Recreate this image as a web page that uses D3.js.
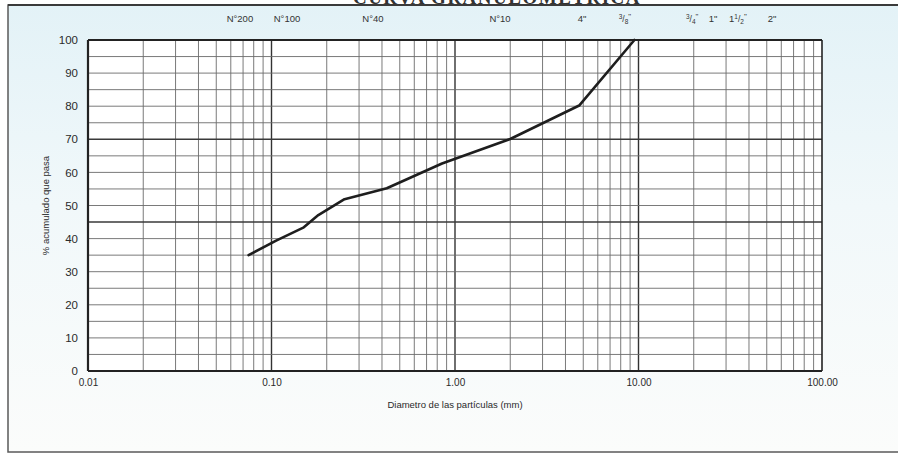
<!DOCTYPE html>
<html>
<head>
<meta charset="utf-8">
<script src="https://cdn.jsdelivr.net/npm/d3@7"></script>
<style>
  html, body { margin: 0; padding: 0; background: #ffffff; }
  svg { display: block; }
</style>
</head>
<body>
<svg id="chart" width="898" height="456"></svg>
<script>
// ---- data ----
const diameters = [0.075, 0.106, 0.15, 0.18, 0.25, 0.425, 0.85, 2.0, 4.75, 9.5];
const percentPassing = [35.0, 39.4, 43.4, 47.1, 51.9, 55.2, 62.7, 70.1, 80.2, 100];
const xTickValues = [0.01, 0.1, 1, 10, 100];
const yTickValues = [0, 10, 20, 30, 40, 50, 60, 70, 80, 90, 100];
const sieveLabels = ['N°200', 'N°100', 'N°40', 'N°10', '4"', '3/8"', '3/4"', '1"', '1 1/2"', '2"'];
const sieveLabelAt = [0.0673, 0.1215, 0.357, 1.76, 4.92, 8.44, 19.6, 25.5, 34.8, 53.4];
const titleText = 'CURVA GRANULOMETRICA';
const xTitle = 'Diametro de las partículas (mm)';
const yTitle = '% acumulado que pasa';

// ---- layout ----
const W = 898, H = 456;
const plot = { left: 88, right: 822, top: 40, bottom: 371 };
const svg = d3.select('#chart');

const defs = svg.append('defs');
const grad = defs.append('linearGradient').attr('id', 'bg').attr('x1', 0).attr('y1', 0).attr('x2', 0).attr('y2', 1);
grad.append('stop').attr('offset', '0%').attr('stop-color', '#e3f2f7');
grad.append('stop').attr('offset', '45%').attr('stop-color', '#f1f8fa');
grad.append('stop').attr('offset', '100%').attr('stop-color', '#fbfcfb');

// outer frame
svg.append('rect').attr('x', 8).attr('y', 5).attr('width', W - 6).attr('height', 447)
  .attr('fill', 'url(#bg)').attr('stroke', '#5a5a5a').attr('stroke-width', 1.5);

// title (cut off at the top, as in the scan)
svg.append('text').attr('x', 497).attr('y', 4)
  .attr('text-anchor', 'middle')
  .attr('font-family', 'Liberation Serif, serif').attr('font-weight', 'bold')
  .attr('font-size', 19).attr('fill', '#333').attr('letter-spacing', 1.5)
  .text(titleText);
svg.append('line').attr('x1', 8).attr('x2', W).attr('y1', 5).attr('y2', 5)
  .attr('stroke', '#3a3a3a').attr('stroke-width', 2);

// scales
const x = d3.scaleLog().domain([0.01, 100]).range([plot.left, plot.right]);
const y = d3.scaleLinear().domain([0, 100]).range([plot.bottom, plot.top]);

// plot background
svg.append('rect').attr('x', plot.left).attr('y', plot.top)
  .attr('width', plot.right - plot.left).attr('height', plot.bottom - plot.top)
  .attr('fill', '#ffffff');

// vertical grid (log)
const gridX = [];
for (let d = 0.01; d < 100; d *= 10) {
  for (let k = 1; k <= 9; k++) gridX.push(+(d * k).toPrecision(3));
}
const isMajor = v => Math.abs(Math.log10(v) - Math.round(Math.log10(v))) < 1e-9;
svg.append('g').selectAll('line').data(gridX.filter(v => v > 0.01)).join('line')
  .attr('x1', d => x(d)).attr('x2', d => x(d))
  .attr('y1', plot.top).attr('y2', plot.bottom)
  .attr('stroke', d => isMajor(d) ? '#333' : '#6b6b6b')
  .attr('stroke-width', d => isMajor(d) ? 1.4 : 0.9);

// horizontal grid every 5
const gridY = d3.range(5, 100, 5);
svg.append('g').selectAll('line').data(gridY).join('line')
  .attr('x1', plot.left).attr('x2', plot.right)
  .attr('y1', d => y(d)).attr('y2', d => y(d))
  .attr('stroke', d => (d === 70 || d === 45) ? '#3a3a3a' : '#6b6b6b')
  .attr('stroke-width', d => (d === 70 || d === 45) ? 1.4 : 0.9);

// plot border
svg.append('line').attr('x1', plot.left).attr('x2', plot.right).attr('y1', plot.top).attr('y2', plot.top)
  .attr('stroke', '#222').attr('stroke-width', 2.2);
svg.append('line').attr('x1', plot.left).attr('x2', plot.right).attr('y1', plot.bottom).attr('y2', plot.bottom)
  .attr('stroke', '#222').attr('stroke-width', 2.2);
svg.append('line').attr('x1', plot.left).attr('x2', plot.left).attr('y1', plot.top).attr('y2', plot.bottom)
  .attr('stroke', '#222').attr('stroke-width', 2.2);
svg.append('line').attr('x1', plot.right).attr('x2', plot.right).attr('y1', plot.top).attr('y2', plot.bottom)
  .attr('stroke', '#222').attr('stroke-width', 1.6);

// axes (labels only)
const fmt2 = d3.format('.2f');
const xAxis = d3.axisBottom(x).tickValues(xTickValues).tickFormat(fmt2).tickSize(0).tickPadding(8);
const gx = svg.append('g').attr('transform', `translate(0,${plot.bottom})`).call(xAxis);
gx.select('.domain').remove();
gx.selectAll('text').attr('font-family', 'Liberation Sans, Arial, sans-serif').attr('font-size', 10).attr('fill', '#2a2a2a');

const yAxis = d3.axisLeft(y).tickValues(yTickValues).tickSize(0).tickPadding(10);
const gy = svg.append('g').attr('transform', `translate(${plot.left},0)`).call(yAxis);
gy.select('.domain').remove();
gy.selectAll('text').attr('font-family', 'Liberation Sans, Arial, sans-serif').attr('font-size', 11.5).attr('fill', '#2a2a2a');

// axis titles
svg.append('text').attr('x', 455).attr('y', 408).attr('text-anchor', 'middle')
  .attr('font-family', 'Liberation Sans, Arial, sans-serif').attr('font-size', 9.5).attr('fill', '#2a2a2a')
  .text(xTitle);
svg.append('text').attr('transform', `translate(49,${(plot.top + plot.bottom) / 2}) rotate(-90)`)
  .attr('text-anchor', 'middle')
  .attr('font-family', 'Liberation Sans, Arial, sans-serif').attr('font-size', 9.5).attr('fill', '#2a2a2a')
  .text(yTitle);

// sieve labels on top (fractions rendered with super/subscripts)
const sg = svg.append('g').attr('font-family', 'Liberation Sans, Arial, sans-serif').attr('fill', '#333');
sieveLabels.forEach((lab, i) => {
  const t = sg.append('text').attr('x', x(sieveLabelAt[i])).attr('y', 22)
    .attr('text-anchor', 'middle').attr('font-size', 9.5);
  const m = lab.match(/^(\d+ )?(\d+)\/(\d+)(.*)$/);
  if (m) {
    if (m[1]) t.append('tspan').text(m[1].trim());
    t.append('tspan').attr('font-size', 6.5).attr('dy', -3).text(m[2]);
    t.append('tspan').attr('font-size', 8.5).attr('dy', 3).text('/');
    t.append('tspan').attr('font-size', 6.5).attr('dy', 2).text(m[3]);
    t.append('tspan').attr('font-size', 8).attr('dy', -5).text(m[4]);
  } else {
    t.text(lab);
  }
});

// grading curve (straight segments between sieve points)
const pts = diameters.map((d, i) => [d, percentPassing[i]]);
svg.append('path').datum(pts)
  .attr('fill', 'none').attr('stroke', '#1e1e1e').attr('stroke-width', 2.6)
  .attr('stroke-linejoin', 'round').attr('stroke-linecap', 'round')
  .attr('d', d3.line().x(d => x(d[0])).y(d => y(d[1])));
</script>
</body>
</html>
